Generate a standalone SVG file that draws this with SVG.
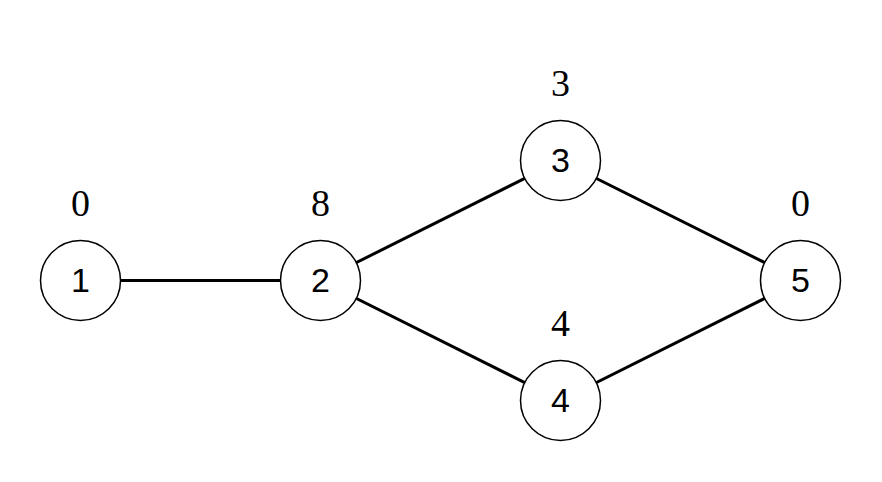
<svg xmlns="http://www.w3.org/2000/svg" width="882" height="482" viewBox="0 0 882 482">
<style>
.edge{stroke:#000;stroke-width:3;fill:none}
.node circle{fill:#fff;stroke:#000;stroke-width:1.5}
.num{font-family:"Liberation Sans",Arial,sans-serif;text-anchor:middle;fill:#000}
.val{font-family:"Liberation Serif","Times New Roman",serif;text-anchor:middle;fill:#000}
</style>
<rect width="882" height="482" fill="#fff"/>
<g id="edges">
<line class="edge" x1="80.5" y1="280.5" x2="320.5" y2="280.5"/>
<line class="edge" x1="320.5" y1="280.5" x2="560.5" y2="160.5"/>
<line class="edge" x1="320.5" y1="280.5" x2="560.5" y2="400.5"/>
<line class="edge" x1="560.5" y1="160.5" x2="800.5" y2="280.5"/>
<line class="edge" x1="560.5" y1="400.5" x2="800.5" y2="280.5"/>
</g>
<g id="node1" class="node"><circle cx="80.5" cy="280.5" r="40"/><text class="num" font-size="34" x="80.5" y="291.5">1</text><text class="val" font-size="38" x="80.5" y="216">0</text></g>
<g id="node2" class="node"><circle cx="320.5" cy="280.5" r="40"/><text class="num" font-size="34" x="320.5" y="291.5">2</text><text class="val" font-size="38" x="320.5" y="216">8</text></g>
<g id="node3" class="node"><circle cx="560.5" cy="160.5" r="40"/><text class="num" font-size="34" x="560.5" y="171.5">3</text><text class="val" font-size="38" x="560.5" y="96">3</text></g>
<g id="node4" class="node"><circle cx="560.5" cy="400.5" r="40"/><text class="num" font-size="34" x="560.5" y="411.5">4</text><text class="val" font-size="38" x="560.5" y="336">4</text></g>
<g id="node5" class="node"><circle cx="800.5" cy="280.5" r="40"/><text class="num" font-size="34" x="800.5" y="291.5">5</text><text class="val" font-size="38" x="800.5" y="216">0</text></g>
</svg>
